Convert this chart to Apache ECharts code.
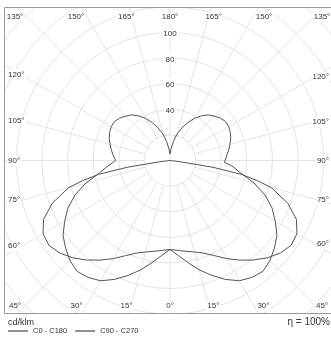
<!DOCTYPE html>
<html>
<head>
<meta charset="utf-8">
<script src="https://cdn.jsdelivr.net/npm/echarts@6/dist/echarts.min.js"></script>
<style>
html,body{margin:0;padding:0;background:#fff;}
#chart{width:331px;height:338px;}
</style>
</head>
<body>
<div id="chart"></div>
<script>
// ---- data ----
// gamma angles (deg from downward vertical) and luminous intensity (cd/klm)
const GAMMA_C0 = [0,5,10,15,20,25,30,35,40,45,50,55,60,65,70,75,77,79,81,83,85,90];
const C0_C180  = [69.5,70.5,72,74,77,82,88.5,95,101.5,107.5,112.5,115.5,114.5,109,98,82,70,57,34,8,2,0];
const GAMMA_C90 = [0,5,10,15,20,25,30,35,40,45,50,55,60,65,70,75,80,85,88,90,95,100,105,110,115,120,125,130,135,140,145,150,155,160,165,170,175,180];
const C90_C270  = [69.5,74.5,81,88.5,95.5,102.5,108.5,111.5,113,110.5,106.5,102,95,88,79,68,56,48.5,42.5,42.5,44.5,46.5,48.5,50.5,52,53,53,51.5,49,46.5,42.5,38,32.5,27,21.5,15,9,5];
const SERIES_NAMES = ['C0 - C180', 'C90 - C270'];
const RING_LABELS = [40, 60, 80, 100];
const TOP_TICKS = [135, 150, 165, 180];
const SIDE_TICKS = [120, 105, 90, 75, 60];
const BOTTOM_TICKS = [45, 30, 15, 0];
const UNIT_TEXT = 'cd/klm';
const ETA_TEXT = 'η = 100%';

// ---- layout ----
const CX = 170, CY = 160.5, PXU = 1.28, RMAX = 180;
const BOX = {l: 4, t: 7, r: 336, b: 313};
const GRID = '#e4e4e4', TXT = '#333', FONT = 'Liberation Sans, Arial, sans-serif';

function loop(gammas, vals) {
  const right = gammas.map((g, i) => [vals[i], g]);
  const left = gammas.slice().reverse().map((g, k) => [vals[gammas.length - 1 - k], 360 - g]);
  return right.concat(left);
}

const rad = d => d * Math.PI / 180;
const angleTexts = [];
function addText(t, x, y, align) {
  angleTexts.push({type: 'text', z: 60, x: x, y: y,
    style: {text: t, fill: TXT, font: '8px ' + FONT, align: align, verticalAlign: 'middle',
            backgroundColor: '#fff', padding: [1, 1, 1, 1]}});
}
TOP_TICKS.forEach(g => {
  const h = CY - BOX.t + 9.4;
  const dx = h * Math.tan(rad(180 - g));
  [-1, 1].forEach(s => {
    if (g === 180 && s === 1) return;
    let x = CX + s * dx;
    x = Math.max(15, Math.min(322, x));
    addText(g + '°', x, 17, 'center');
  });
});
BOTTOM_TICKS.forEach(g => {
  const h = BOX.b - CY + 9.4;
  const dx = h * Math.tan(rad(g));
  [-1, 1].forEach(s => {
    if (g === 0 && s === 1) return;
    let x = CX + s * dx;
    x = Math.max(15, Math.min(322, x));
    addText(g + '°', x, 306, 'center');
  });
});
SIDE_TICKS.forEach(g => {
  const yl = CY + (CX - 22) / Math.tan(rad(g));
  addText(g + '°', 7, Math.abs(g - 90) < 1e-6 ? CY : yl, 'left');
  const yr = CY + (315 - CX) / Math.tan(rad(g));
  addText(g + '°', 330, Math.abs(g - 90) < 1e-6 ? CY : yr, 'right');
});

const chart = echarts.init(document.getElementById('chart'), null, {renderer: 'canvas'});
const hidden = {axisLine: {show: false}, axisTick: {show: false}, axisLabel: {show: false}, splitLine: {show: false}};
chart.setOption({
  animation: false,
  backgroundColor: '#fff',
  polar: [
    {center: [CX, CY], radius: [20 * PXU, RMAX * PXU]},
    {center: [CX, CY], radius: [0, 20 * PXU]},
    {center: [CX, CY], radius: RMAX * PXU}
  ],
  angleAxis: [
    Object.assign({}, hidden, {polarIndex: 0, type: 'value', min: 0, max: 360, interval: 15, startAngle: 90, z: 0,
      splitLine: {show: true, lineStyle: {color: GRID, width: 1}}}),
    Object.assign({}, hidden, {polarIndex: 1, type: 'value', min: 0, max: 360, interval: 180, startAngle: 90, z: 0,
      splitLine: {show: true, lineStyle: {color: GRID, width: 1}}}),
    Object.assign({}, hidden, {polarIndex: 2, type: 'value', min: 0, max: 360, startAngle: 270, clockwise: false})
  ],
  radiusAxis: [
    {polarIndex: 0, type: 'value', min: 20, max: RMAX, interval: 20, z: 1,
      axisLine: {show: false}, axisTick: {show: false},
      splitLine: {show: true, lineStyle: {color: GRID, width: 1}},
      axisLabel: {show: true, margin: 0, align: 'center', verticalAlign: 'middle',
        formatter: v => RING_LABELS.includes(v) ? '{a|' + v + '}' : '',
        rich: {a: {fontSize: 8, fontFamily: FONT, color: TXT, backgroundColor: '#fff', padding: [3, 1, 0, 1]}}}},
    Object.assign({}, hidden, {polarIndex: 1, type: 'value', min: 0, max: 1}),
    Object.assign({}, hidden, {polarIndex: 2, type: 'value', min: 0, max: RMAX})
  ],
  legend: {
    z: 200, left: 8, top: 327, itemWidth: 20, itemHeight: 1, itemGap: 8, icon: 'rect',
    padding: 0,
    textStyle: {fontSize: 7.5, fontFamily: FONT, color: TXT},
    data: SERIES_NAMES
  },
  series: [
    {name: SERIES_NAMES[0], type: 'line', coordinateSystem: 'polar', polarIndex: 2, showSymbol: false, symbol: 'none',
      lineStyle: {color: '#555', width: 1}, itemStyle: {color: '#222'}, data: loop(GAMMA_C0, C0_C180), z: 3},
    {name: SERIES_NAMES[1], type: 'line', coordinateSystem: 'polar', polarIndex: 2, showSymbol: false, symbol: 'none',
      lineStyle: {color: '#555', width: 1}, itemStyle: {color: '#222'}, data: loop(GAMMA_C90, C90_C270), z: 3}
  ],
  graphic: [
    {type: 'rect', z: 50, shape: {x: 0, y: 0, width: 331, height: BOX.t}, style: {fill: '#fff'}},
    {type: 'rect', z: 50, shape: {x: 0, y: 0, width: BOX.l, height: 338}, style: {fill: '#fff'}},
    {type: 'rect', z: 50, shape: {x: 0, y: BOX.b, width: 331, height: 338 - BOX.b}, style: {fill: '#fff'}},
    {type: 'rect', z: 55, shape: {x: BOX.l + 0.5, y: BOX.t + 0.5, width: BOX.r - BOX.l, height: BOX.b - BOX.t}, style: {fill: null, stroke: '#9a9a9a', lineWidth: 1}},
    {type: 'text', z: 60, x: 8, y: 323, style: {text: UNIT_TEXT, fill: TXT, font: '9px ' + FONT, align: 'left', verticalAlign: 'middle'}},
    {type: 'text', z: 60, x: 330, y: 322, style: {text: ETA_TEXT, fill: TXT, font: '10px ' + FONT, align: 'right', verticalAlign: 'middle'}}
  ].concat(angleTexts)
});
</script>
</body>
</html>
